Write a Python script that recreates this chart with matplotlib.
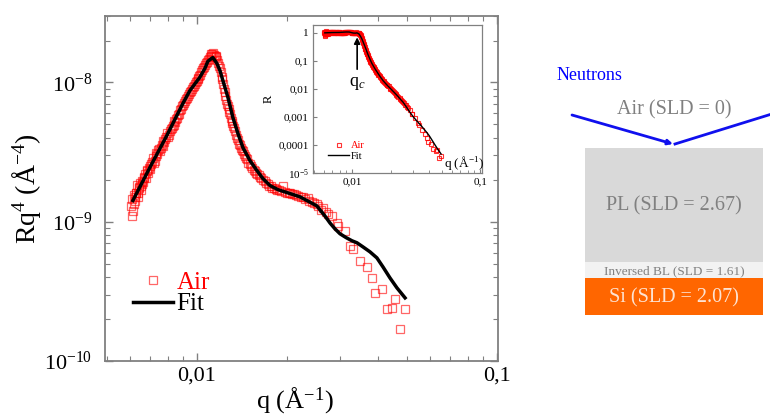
import matplotlib
matplotlib.use('Agg')
import numpy as np
import matplotlib.pyplot as plt
from matplotlib.ticker import LogLocator, FixedLocator, FixedFormatter, NullFormatter
from matplotlib.patches import Rectangle

plt.rcParams['font.family'] = ['Liberation Serif', 'DejaVu Serif']
plt.rcParams['mathtext.fontset'] = 'custom'
plt.rcParams['mathtext.rm'] = 'Liberation Serif'
plt.rcParams['mathtext.it'] = 'Liberation Serif:italic'

# measured data (Air), q in 1/A, Rq^4 in units of 1e-9 A^-4
q_air = [0.00603, 0.00606, 0.00609, 0.00612, 0.00615, 0.00620, 0.00625, 0.00630, 0.00635, 0.00640,
         0.00646, 0.00652, 0.00658, 0.00665, 0.00672, 0.00680, 0.00688, 0.00696, 0.00705, 0.00714,
         0.00723, 0.00733, 0.00743, 0.00753, 0.00763, 0.00773, 0.00784, 0.00795, 0.00806, 0.00818,
         0.00830, 0.00842, 0.00854, 0.00866, 0.00879, 0.00892, 0.00905, 0.00918, 0.00932, 0.00946,
         0.00960, 0.00975, 0.00990, 0.01005, 0.01020, 0.01035, 0.01050, 0.01065, 0.01080, 0.01095,
         0.01110, 0.01125, 0.01140, 0.01155, 0.01170, 0.01185, 0.01200, 0.01215, 0.01230, 0.01245,
         0.01260, 0.01275, 0.01290, 0.01305, 0.01320, 0.01340, 0.01360, 0.01380, 0.01400, 0.01420,
         0.01445, 0.01470, 0.01500, 0.01530, 0.01560, 0.01590, 0.01620, 0.01660, 0.01700, 0.01740,
         0.01780, 0.01830, 0.01880, 0.01935, 0.01990, 0.02050, 0.02110, 0.02180, 0.02250, 0.02344,
         0.02410, 0.02510, 0.02630, 0.02733, 0.02818, 0.02929, 0.02951, 0.03114, 0.03236, 0.03310,
         0.03494, 0.03690, 0.03831, 0.03920, 0.04140, 0.04300, 0.04470, 0.04570, 0.04751, 0.04940,
         0.00618, 0.00623, 0.00628, 0.00638, 0.00643, 0.00649, 0.00655, 0.00662, 0.00668, 0.00676,
         0.00684, 0.00692, 0.00700, 0.00709, 0.00718, 0.00728, 0.00738, 0.00748, 0.00758, 0.00768,
         0.00778, 0.00789, 0.00800, 0.00812, 0.00824, 0.00836, 0.00848, 0.00860, 0.00872, 0.00885,
         0.00898, 0.00911, 0.00925, 0.00939, 0.00953, 0.00968, 0.00983, 0.00998, 0.01012, 0.01028,
         0.01043, 0.01058, 0.01072, 0.01088, 0.01102, 0.01118, 0.01133, 0.01148, 0.01162, 0.01178,
         0.01192, 0.01208, 0.01222, 0.01238, 0.01252, 0.01268, 0.01283, 0.01298, 0.01312, 0.01330,
         0.01350, 0.01370, 0.01390, 0.01410, 0.01432, 0.01458, 0.01485, 0.01515, 0.01545, 0.01575,
         0.01605, 0.01640, 0.01680, 0.01720, 0.01760, 0.01805, 0.01855, 0.01905, 0.01960, 0.02020,
         0.02080, 0.02145, 0.02215, 0.02290, 0.02370, 0.02450, 0.02535, 0.02600, 0.02700]
rq4_air = [1.30, 1.45, 1.10, 1.20, 1.55, 1.40, 1.60, 1.85, 1.50, 1.75,
           1.90, 1.80, 1.95, 2.05, 2.20, 2.35, 2.25, 2.50, 2.60, 2.85,
           2.75, 3.10, 3.30, 3.20, 3.55, 3.80, 3.95, 4.30, 4.20, 4.60,
           4.90, 5.30, 5.50, 5.80, 6.30, 6.80, 7.10, 7.60, 8.00, 8.60,
           8.90, 9.50, 10.0, 10.6, 11.2, 11.8, 12.6, 13.3, 14.0, 14.8,
           15.6, 16.0, 15.8, 15.5, 14.5, 13.2, 11.8, 10.5, 9.00, 8.00,
           7.00, 6.40, 5.90, 5.30, 4.90, 4.50, 4.00, 3.60, 3.40, 3.20,
           2.95, 2.80, 2.60, 2.45, 2.30, 2.20, 2.10, 2.00, 1.90, 1.82,
           1.76, 1.72, 1.68, 1.82, 1.62, 1.60, 1.58, 1.52, 1.50, 1.49,
           1.38, 1.35, 1.26, 1.14, 1.10, 0.98, 0.935, 0.86, 0.67, 0.64,
           0.52, 0.47, 0.395, 0.31, 0.33, 0.237, 0.24, 0.279, 0.17, 0.237,
           1.35, 1.50, 1.62, 1.62, 1.78, 1.70, 1.88, 1.92, 2.10, 2.05,
           2.30, 2.42, 2.40, 2.70, 2.62, 2.95, 3.05, 3.35, 3.40, 3.50,
           3.75, 4.05, 4.05, 4.45, 4.70, 4.95, 5.20, 5.60, 5.90, 6.40,
           6.90, 7.40, 7.70, 8.20, 8.70, 9.20, 9.80, 10.3, 10.8, 11.4,
           12.3, 12.9, 13.8, 14.5, 15.2, 15.9, 16.2, 15.6, 15.2, 13.8,
           12.6, 11.0, 9.80, 8.50, 7.50, 6.80, 6.10, 5.60, 5.10, 4.70,
           4.20, 3.85, 3.55, 3.25, 3.05, 2.85, 2.65, 2.50, 2.35, 2.25,
           2.15, 2.05, 1.95, 1.86, 1.80, 1.74, 1.70, 1.66, 1.63, 1.61,
           1.59, 1.55, 1.50, 1.46, 1.41, 1.36, 1.30, 1.22, 1.17]

# fit curve
q_fit = [0.00612, 0.00697, 0.00794, 0.00898, 0.00948, 0.01023, 0.01063, 0.01088, 0.0113, 0.01166,
         0.01193, 0.01221, 0.01269, 0.01318, 0.0137, 0.01424, 0.01502, 0.01585, 0.0166, 0.01751,
         0.01862, 0.01995, 0.02204, 0.0251, 0.02671, 0.02776, 0.02884, 0.02997, 0.03139, 0.03286,
         0.03415, 0.03575, 0.03773, 0.0398, 0.04169, 0.044, 0.04642, 0.0494]
rq4_fit = [1.42, 2.45, 4.16, 7.06, 8.75, 10.9, 12.6, 14.2, 15.1, 13.7,
           12.2, 10.3, 7.8, 5.6, 4.3, 3.40, 2.75, 2.33, 2.04, 1.82,
           1.70, 1.62, 1.51, 1.30, 1.10, 0.98, 0.89, 0.82, 0.77, 0.73,
           0.706, 0.66, 0.608, 0.55, 0.474, 0.395, 0.335, 0.284]

# sample layers (right-hand sketch)
layer_names = ['PL', 'Inversed BL', 'Si']
layer_sld = [2.67, 1.61, 2.07]
air_sld = 0

q_air = np.array(q_air)
q_fit = np.array(q_fit)
rq4_air = np.array(rq4_air) * 1e-9
rq4_fit = np.array(rq4_fit) * 1e-9

W, H = 770, 419
fig = plt.figure(figsize=(W / 100, H / 100), dpi=100)

spine_col = '#808080'

# main panel
ax = fig.add_axes([105 / W, 1 - 361 / H, 393 / W, 345 / H])
ax.set_xscale('log')
ax.set_yscale('log')
ax.plot(q_air, rq4_air, ls='none', marker='s', ms=5.5, mfc='none', mec=(1, 0, 0, 0.6),
        mew=0.9, label='Air', zorder=2)
ax.plot(q_fit, rq4_fit, color='black', lw=2.5, label='Fit', zorder=3)
ax.set_xlim(0.00494, 0.1008)
ax.set_ylim(1e-10, 3e-8)

ax.xaxis.set_major_locator(FixedLocator([0.01, 0.1]))
ax.xaxis.set_major_formatter(FixedFormatter(['0,01', '0,1']))
ax.xaxis.set_minor_locator(LogLocator(base=10, subs=np.arange(2, 10)))
ax.xaxis.set_minor_formatter(NullFormatter())
ax.yaxis.set_major_locator(FixedLocator([1e-10, 1e-9, 1e-8]))
ax.yaxis.set_major_formatter(FixedFormatter([r'10$^{-10}$', r'10$^{-9}$', r'10$^{-8}$']))
ax.yaxis.set_minor_locator(LogLocator(base=10, subs=np.arange(2, 10)))
ax.yaxis.set_minor_formatter(NullFormatter())
ax.tick_params(which='both', direction='in', top=True, right=True, color=spine_col,
               labelsize=16)
ax.tick_params(which='major', length=6, width=1)
ax.tick_params(which='minor', length=3.5, width=0.8)
ax.tick_params(axis='y', pad=9)
ax.tick_params(axis='x', pad=4)
for s in ax.spines.values():
    s.set_color(spine_col)
    s.set_linewidth(1.3)

ax.set_xlabel(r'q (Å$^{-1}$)', fontsize=19)
ax.set_ylabel(r'Rq$^4$ (Å$^{-4}$)', fontsize=20)
ax.xaxis.set_label_coords(0.483, -0.07)
ax.yaxis.set_label_coords(-0.158, 0.5)

ax.legend(loc='center left', bbox_to_anchor=(0.071, 0.196), frameon=False, fontsize=18,
          borderpad=0, borderaxespad=0, handlelength=1.6, handletextpad=0.15,
          labelspacing=-0.05, labelcolor=['red', 'black'])

# inset: reflectivity R = Rq^4 / q^4
axi = fig.add_axes([313 / W, 1 - 173 / H, 169 / W, 148 / H])
axi.set_xscale('log')
axi.set_yscale('log')
axi.plot(q_air, rq4_air / q_air ** 4, ls='none', marker='s', ms=2.8, mfc='none',
         mec=(1, 0, 0, 0.8), mew=0.8, label='Air', zorder=2)
axi.plot(q_fit, rq4_fit / q_fit ** 4, color='black', lw=1.0, label='Fit', zorder=3)
axi.set_xlim(0.00495, 0.103)
axi.set_ylim(1e-5, 1.93)
axi.xaxis.set_major_locator(FixedLocator([0.01, 0.1]))
axi.xaxis.set_major_formatter(FixedFormatter(['0,01', '0,1']))
axi.xaxis.set_minor_locator(LogLocator(base=10, subs=np.arange(2, 10)))
axi.xaxis.set_minor_formatter(NullFormatter())
axi.yaxis.set_major_locator(FixedLocator([1e-5, 1e-4, 1e-3, 1e-2, 1e-1, 1]))
axi.yaxis.set_major_formatter(FixedFormatter([r'10$^{-5}$', '0,0001', '0,001', '0,01', '0,1', '1']))
axi.yaxis.set_minor_locator(FixedLocator([]))
axi.tick_params(which='both', direction='in', color=spine_col, labelsize=8, pad=3)
axi.tick_params(which='major', length=3)
axi.tick_params(which='minor', length=2)
for s in axi.spines.values():
    s.set_color(spine_col)
    s.set_linewidth(0.9)
axi.set_ylabel('R', fontsize=9, labelpad=3)
axi.text(0.775, 0.07, r'q (Å$^{-1}$)', transform=axi.transAxes, fontsize=9.5,
         ha='left', va='center')
axi.annotate(r'q$_c$', xy=(0.01094, 0.7), xytext=(0.01094, 0.016), fontsize=13,
             ha='center', va='center',
             arrowprops=dict(arrowstyle='-|>', color='black', lw=1.2, mutation_scale=9,
                             shrinkA=2, shrinkB=0))
axi.legend(loc='center left', bbox_to_anchor=(0.09, 0.15), frameon=False, fontsize=7.5,
           borderpad=0, borderaxespad=0, handlelength=2.0, handletextpad=0.15,
           labelspacing=0.1, labelcolor=['red', 'black'])

# right-hand sketch of the sample
sk = fig.add_axes([0, 0, 1, 1])
sk.set_xlim(0, W)
sk.set_ylim(H, 0)
sk.axis('off')

text_gray = '#808080'
sk.text(557, 75, 'Neutrons', color='#0000ff', fontsize=13, ha='left', va='center')
sk.text(674, 110, f'Air (SLD = {air_sld})', color=text_gray, fontsize=14.5,
        ha='center', va='center')
sk.annotate('', xy=(673, 144), xytext=(572, 115),
            arrowprops=dict(arrowstyle='-|>', color='#1010ee', lw=2, mutation_scale=7,
                            shrinkA=0, shrinkB=0))
sk.plot([675, 775], [144, 113], color='#1010ee', lw=2, clip_on=False)

layer_y = [(148, 262), (262, 278), (278, 315)]
layer_fc = ['#d9d9d9', '#f2f2f2', '#ff6600']
layer_tc = [text_gray, text_gray, '#fde3d3']
layer_fs = [14.5, 9.5, 14.5]
for name, sld, (y0, y1), fc, tc, fs in zip(layer_names, layer_sld, layer_y, layer_fc,
                                            layer_tc, layer_fs):
    sk.add_patch(Rectangle((585, y0), 178, y1 - y0, facecolor=fc, edgecolor='none'))
    sk.text(674, (y0 + y1) / 2 + 1, f'{name} (SLD = {sld:.2f})', color=tc, fontsize=fs,
            ha='center', va='center')

fig.savefig('out.png', dpi=100)
